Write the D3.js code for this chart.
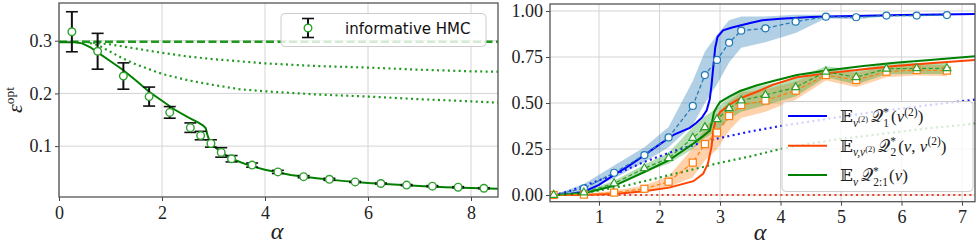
<!DOCTYPE html>
<html>
<head>
<meta charset="utf-8">
<script src="https://cdn.jsdelivr.net/npm/d3@7"></script>
<style>
  body { margin: 0; background: #fff; }
  svg { display: block; }
  .domain { display: none; }
</style>
</head>
<body>
<svg id="chart" width="978" height="244"></svg>
<script>
// ---- left panel: HMC error vs alpha ----
const hmcAlpha = [0.25, 0.75, 1.25, 1.75, 2.15, 2.55, 2.75, 2.95, 3.15, 3.35, 3.75, 4.25, 4.75, 5.25, 5.75, 6.25, 6.75, 7.25, 7.75, 8.25];
const hmcEps = [0.317, 0.280, 0.233, 0.194, 0.164, 0.135, 0.120, 0.105, 0.088, 0.076, 0.064, 0.051, 0.042, 0.037, 0.032, 0.029, 0.026, 0.024, 0.022, 0.020];
const hmcErr = [0.038, 0.034, 0.025, 0.018, 0.011, 0.009, 0.008, 0.007, 0.009, 0.006, 0.004, 0.003, 0.002, 0.002, 0.001, 0.001, 0.001, 0.001, 0.001, 0.001];

const epsTheoryAlpha = [0, 0.3, 0.45, 0.6, 0.75, 1.0, 1.25, 1.5, 1.75, 2.0, 2.25, 2.5, 2.7, 2.8, 2.85, 2.88, 2.92, 3.0, 3.2, 3.4, 3.7, 4.0, 4.5, 5.0, 5.5, 6.0, 6.5, 7.0, 7.5, 8.0, 8.6];
const epsTheory = [0.297, 0.297, 0.295, 0.288, 0.278, 0.261, 0.244, 0.224, 0.203, 0.186, 0.169, 0.155, 0.145, 0.139, 0.134, 0.122, 0.110, 0.100, 0.085, 0.074, 0.063, 0.055, 0.045, 0.039, 0.034, 0.030, 0.027, 0.0245, 0.022, 0.0205, 0.019];

const epsFlatAlpha = [0, 8.6];
const epsFlat = [0.298, 0.298];

const epsDot1Alpha = [0.45, 1.0, 1.5, 2.0, 2.5, 3.0, 3.5, 4.0, 5.0, 6.0, 7.0, 8.0, 8.6];
const epsDot1 = [0.298, 0.293, 0.285, 0.277, 0.270, 0.265, 0.261, 0.257, 0.252, 0.249, 0.245, 0.242, 0.241];

const epsDot2Alpha = [0.5, 0.75, 1.0, 1.25, 1.5, 2.0, 2.5, 3.0, 3.5, 4.0, 5.0, 6.0, 7.0, 8.0, 8.6];
const epsDot2 = [0.298, 0.292, 0.279, 0.266, 0.255, 0.237, 0.225, 0.216, 0.208, 0.204, 0.198, 0.194, 0.189, 0.185, 0.182];

const leftXTicks = [0, 2, 4, 6, 8];
const leftYTicks = [0.1, 0.2, 0.3];

// ---- right panel: overlaps vs alpha ----
const simAlpha = [0.25, 0.75, 1.25, 1.75, 2.15, 2.55, 2.75, 2.95, 3.15, 3.35, 3.75, 4.25, 4.75, 5.25, 5.75, 6.25, 6.75];
const q1Sim = [0, 0.036, 0.121, 0.217, 0.313, 0.484, 0.652, 0.734, 0.828, 0.893, 0.906, 0.942, 0.969, 0.966, 0.975, 0.975, 0.978];
const q1Lo = [0, 0.02, 0.09, 0.18, 0.26, 0.38, 0.50, 0.60, 0.72, 0.80, 0.83, 0.88, 0.96, 0.955, 0.97, 0.97, 0.975];
const q1Hi = [0, 0.06, 0.16, 0.26, 0.37, 0.62, 0.78, 0.87, 0.95, 0.97, 0.97, 0.98, 0.98, 0.975, 0.98, 0.98, 0.982];
const q2Sim = [0, 0.002, 0.013, 0.034, 0.072, 0.176, 0.277, 0.339, 0.429, 0.489, 0.513, 0.567, 0.652, 0.625, 0.670, 0.679, 0.676];
const q2Std = [0, 0.004, 0.01, 0.018, 0.03, 0.08, 0.09, 0.09, 0.08, 0.07, 0.06, 0.05, 0.03, 0.04, 0.03, 0.03, 0.03];
const q21Sim = [0, 0.013, 0.063, 0.145, 0.2, 0.31, 0.368, 0.411, 0.471, 0.513, 0.543, 0.585, 0.67, 0.64, 0.686, 0.688, 0.688];
const q21Std = [0, 0.006, 0.015, 0.02, 0.03, 0.06, 0.06, 0.06, 0.06, 0.06, 0.055, 0.05, 0.03, 0.04, 0.03, 0.03, 0.03];

const q1ThAlpha = [0.25, 0.5, 0.75, 1.0, 1.25, 1.5, 1.75, 2.0, 2.25, 2.5, 2.6, 2.7, 2.78, 2.83, 2.86, 2.89, 2.92, 2.96, 3.05, 3.2, 3.5, 3.7, 4.0, 4.5, 5.0, 6.0, 7.25];
const q1Th = [0, 0.006, 0.018, 0.055, 0.109, 0.16, 0.217, 0.275, 0.33, 0.365, 0.39, 0.42, 0.46, 0.52, 0.6, 0.70, 0.80, 0.86, 0.895, 0.91, 0.935, 0.95, 0.958, 0.968, 0.972, 0.978, 0.984];

const q2ThAlpha = [0.25, 0.75, 1.25, 1.75, 2.16, 2.56, 2.72, 2.8, 2.86, 2.89, 2.93, 3.0, 3.15, 3.33, 3.6, 3.88, 4.27, 4.76, 5.37, 5.89, 6.47, 7.25];
const q2Th = [0, 0, 0.005, 0.02, 0.04, 0.075, 0.115, 0.17, 0.263, 0.35, 0.41, 0.45, 0.49, 0.525, 0.56, 0.6, 0.64, 0.661, 0.683, 0.701, 0.716, 0.735];

const q21ThAlpha = [0.25, 0.75, 1.25, 1.75, 2.16, 2.56, 2.72, 2.83, 2.87, 2.9, 2.95, 3.0, 3.15, 3.33, 3.6, 3.88, 4.27, 4.76, 5.37, 5.89, 6.47, 7.25];
const q21Th = [0, 0.01, 0.05, 0.125, 0.19, 0.28, 0.32, 0.35, 0.40, 0.45, 0.48, 0.505, 0.535, 0.565, 0.595, 0.62, 0.652, 0.676, 0.701, 0.719, 0.734, 0.755];

const dotAlpha = [0.25, 0.5, 0.75, 1.0, 1.25, 1.5, 1.75, 2.0, 2.25, 2.5, 2.75, 3.0, 3.5, 4.0, 4.5, 5.0, 5.5, 6.0, 6.5, 7.0, 7.25];
const q1Dot = [0, 0.02, 0.05, 0.08, 0.11, 0.145, 0.18, 0.21, 0.24, 0.265, 0.29, 0.31, 0.345, 0.375, 0.40, 0.425, 0.45, 0.47, 0.49, 0.51, 0.52];
const q21Dot = [0, 0.004, 0.01, 0.025, 0.04, 0.055, 0.075, 0.095, 0.115, 0.135, 0.155, 0.175, 0.21, 0.25, 0.28, 0.305, 0.325, 0.345, 0.365, 0.38, 0.39];
const q2Dot = dotAlpha.map(() => 0);

const rightXTicks = [1, 2, 3, 4, 5, 6, 7];
const rightYTicks = [0, 0.25, 0.5, 0.75, 1.0];

const svg = d3.select("#chart");
const GRID = "#d4d4d4";
const FRAME = "#555";
const SERIF = "'Liberation Serif', 'DejaVu Serif', serif";

function pts(xs, ys) {
  return xs.map((x, i) => [x, ys[i]]);
}

function styleTicks(sel) {
  sel.attr("font-family", SERIF).attr("font-size", 18);
  sel.selectAll(".tick text").attr("fill", "#222");
  sel.selectAll(".tick line").attr("stroke", "#444");
}

function makePanel({ id, box, xDomain, yDomain, xTicks, yTicks, yFormat }) {
  const x = d3.scaleLinear().domain(xDomain).range([box.left, box.right]);
  const y = d3.scaleLinear().domain(yDomain).range([box.bottom, box.top]);

  svg.append("clipPath").attr("id", id)
    .append("rect")
    .attr("x", box.left).attr("y", box.top)
    .attr("width", box.right - box.left).attr("height", box.bottom - box.top);

  const g = svg.append("g");

  g.append("g").selectAll("line").data(xTicks).join("line")
    .attr("x1", (d) => x(d)).attr("x2", (d) => x(d))
    .attr("y1", box.top).attr("y2", box.bottom)
    .attr("stroke", GRID).attr("stroke-width", 1);
  g.append("g").selectAll("line").data(yTicks).join("line")
    .attr("x1", box.left).attr("x2", box.right)
    .attr("y1", (d) => y(d)).attr("y2", (d) => y(d))
    .attr("stroke", GRID).attr("stroke-width", 1);

  g.append("g")
    .attr("transform", `translate(0, ${box.bottom})`)
    .call(d3.axisBottom(x).tickValues(xTicks).tickFormat(d3.format("d")).tickSize(4).tickPadding(5))
    .call(styleTicks);
  g.append("g")
    .attr("transform", `translate(${box.left}, 0)`)
    .call(d3.axisLeft(y).tickValues(yTicks).tickFormat(yFormat).tickSize(4).tickPadding(3))
    .call(styleTicks);

  const plot = g.append("g").attr("clip-path", `url(#${id})`);

  return { x, y, g, plot, box };
}

function frame(p) {
  p.g.append("rect")
    .attr("x", p.box.left).attr("y", p.box.top)
    .attr("width", p.box.right - p.box.left)
    .attr("height", p.box.bottom - p.box.top)
    .attr("fill", "none").attr("stroke", FRAME).attr("stroke-width", 1.3);
}

function drawLine(p, data, color, width, dash) {
  const line = d3.line().x((d) => p.x(d[0])).y((d) => p.y(d[1]));
  p.plot.append("path")
    .attr("d", line(data))
    .attr("fill", "none")
    .attr("stroke", color)
    .attr("stroke-width", width)
    .attr("stroke-dasharray", dash || null);
}

// ================= left panel =================
const L = makePanel({
  id: "clipL",
  box: { left: 59, right: 498, top: 3, bottom: 197 },
  xDomain: [0, 8.524],
  yDomain: [0.0034, 0.3716],
  xTicks: leftXTicks,
  yTicks: leftYTicks,
  yFormat: d3.format(".1f"),
});

drawLine(L, pts(epsFlatAlpha, epsFlat), "#1f9a1f", 2.6, "8,3.5");
drawLine(L, pts(epsDot1Alpha, epsDot1), "#1f9a1f", 2.2, "2,3.4");
drawLine(L, pts(epsDot2Alpha, epsDot2), "#1f9a1f", 2.2, "2,3.4");
drawLine(L, pts(epsTheoryAlpha, epsTheory), "#008000", 2);

const hmc = hmcAlpha.map((a, i) => ({ a, e: hmcEps[i], s: hmcErr[i] }));
const eb = L.plot.append("g").selectAll("g").data(hmc).join("g");
eb.append("line")
  .attr("x1", (d) => L.x(d.a)).attr("x2", (d) => L.x(d.a))
  .attr("y1", (d) => L.y(d.e - d.s)).attr("y2", (d) => L.y(d.e + d.s))
  .attr("stroke", "#111").attr("stroke-width", 2);
[-1, 1].forEach((sgn) => {
  eb.append("line")
    .attr("x1", (d) => L.x(d.a) - 6).attr("x2", (d) => L.x(d.a) + 6)
    .attr("y1", (d) => L.y(d.e + sgn * d.s)).attr("y2", (d) => L.y(d.e + sgn * d.s))
    .attr("stroke", "#111").attr("stroke-width", 1.6);
});
eb.append("circle")
  .attr("cx", (d) => L.x(d.a)).attr("cy", (d) => L.y(d.e))
  .attr("r", 3.8)
  .attr("fill", "#fff").attr("stroke", "#2ca02c").attr("stroke-width", 1.4);

frame(L);

// legend
const lg = svg.append("g");
lg.append("rect")
  .attr("x", 281).attr("y", 13.5).attr("width", 205).attr("height", 33).attr("rx", 4)
  .attr("fill", "#fff").attr("fill-opacity", 0.8)
  .attr("stroke", "#ccc").attr("stroke-width", 1);
lg.append("line").attr("x1", 308).attr("x2", 308).attr("y1", 18.5).attr("y2", 37.5)
  .attr("stroke", "#111").attr("stroke-width", 2);
[18.5, 37.5].forEach((yy) => lg.append("line")
  .attr("x1", 302).attr("x2", 314).attr("y1", yy).attr("y2", yy)
  .attr("stroke", "#111").attr("stroke-width", 1.6));
lg.append("circle").attr("cx", 308).attr("cy", 28).attr("r", 3.8)
  .attr("fill", "#fff").attr("stroke", "#2ca02c").attr("stroke-width", 1.4);
lg.append("text").attr("x", 345).attr("y", 34)
  .attr("font-family", "DejaVu Sans, sans-serif").attr("font-size", 15)
  .attr("fill", "#111")
  .text("informative HMC");

// axis labels
svg.append("text")
  .attr("x", 277).attr("y", 239)
  .attr("text-anchor", "middle")
  .attr("font-family", SERIF).attr("font-style", "italic")
  .attr("font-size", 24).attr("fill", "#222")
  .text("α");

const yl = svg.append("text")
  .attr("transform", "translate(22, 100) rotate(-90)")
  .attr("text-anchor", "middle")
  .attr("font-family", SERIF).attr("fill", "#222");
yl.append("tspan").attr("font-style", "italic").attr("font-size", 22).text("ε");
yl.append("tspan").attr("font-size", 13.5).attr("dy", -8).text("opt");

// ================= right panel =================
const R = makePanel({
  id: "clipR",
  box: { left: 550, right: 975, top: 4, bottom: 201.7 },
  xDomain: [0.19, 7.214],
  yDomain: [-0.0364, 1.038],
  xTicks: rightXTicks,
  yTicks: rightYTicks,
  yFormat: d3.format(".2f"),
});

const area = d3.area().x((d) => R.x(d[0])).y0((d) => R.y(d[1])).y1((d) => R.y(d[2]));
R.plot.append("path")
  .attr("d", area(simAlpha.map((a, i) => [a, q1Lo[i], q1Hi[i]])))
  .attr("fill", "#1f77b4").attr("fill-opacity", 0.35);
R.plot.append("path")
  .attr("d", area(simAlpha.map((a, i) => [a, q2Sim[i] - q2Std[i], q2Sim[i] + q2Std[i]])))
  .attr("fill", "#ff7f0e").attr("fill-opacity", 0.35);
R.plot.append("path")
  .attr("d", area(simAlpha.map((a, i) => [a, q21Sim[i] - q21Std[i], q21Sim[i] + q21Std[i]])))
  .attr("fill", "#2ca02c").attr("fill-opacity", 0.35);

drawLine(R, pts(dotAlpha, q2Dot), "#e8412a", 2.2, "2,3.4");
drawLine(R, pts(dotAlpha, q21Dot), "#1f9a1f", 2.2, "2,3.4");
drawLine(R, pts(dotAlpha, q1Dot), "#1a1aff", 2.2, "2,3.4");

drawLine(R, pts(q1ThAlpha, q1Th), "#0000ff", 2);
drawLine(R, pts(q2ThAlpha, q2Th), "#ff4500", 2);
drawLine(R, pts(q21ThAlpha, q21Th), "#008000", 2);

drawLine(R, pts(simAlpha, q1Sim), "#1f77b4", 1.2, "4,2.5");
drawLine(R, pts(simAlpha, q2Sim), "#ff7f0e", 1.2, "4,2.5");
drawLine(R, pts(simAlpha, q21Sim), "#2ca02c", 1.2, "4,2.5");

R.plot.append("g").selectAll("circle").data(pts(simAlpha, q1Sim)).join("circle")
  .attr("cx", (d) => R.x(d[0])).attr("cy", (d) => R.y(d[1])).attr("r", 3.5)
  .attr("fill", "#fff").attr("stroke", "#1f77b4").attr("stroke-width", 1.2);
R.plot.append("g").selectAll("rect").data(pts(simAlpha, q2Sim)).join("rect")
  .attr("x", (d) => R.x(d[0]) - 3.5).attr("y", (d) => R.y(d[1]) - 3.5)
  .attr("width", 7).attr("height", 7)
  .attr("fill", "#fff").attr("stroke", "#ff7f0e").attr("stroke-width", 1.2);
const tri = d3.symbol().type(d3.symbolTriangle).size(28);
R.plot.append("g").selectAll("path").data(pts(simAlpha, q21Sim)).join("path")
  .attr("transform", (d) => `translate(${R.x(d[0])}, ${R.y(d[1])})`)
  .attr("d", tri)
  .attr("fill", "#fff").attr("stroke", "#2ca02c").attr("stroke-width", 1.2);

frame(R);

// legend
const rl = svg.append("g");
rl.append("rect")
  .attr("x", 782).attr("y", 101.5).attr("width", 191).attr("height", 90).attr("rx", 4)
  .attr("fill", "#fff").attr("fill-opacity", 0.8)
  .attr("stroke", "#ccc").attr("stroke-width", 1);

// each part: [text, level (0 base, 1 sub, 2 sup, 3 sup of sub), italic, dx]
const legendRows = [
  { color: "#0000ff", parts: [["𝔼", 0], ["v", 1, true], ["(2)", 3], ["𝒬", 0, false, 3], ["*", 2], ["1", 1, false, -5.5], ["(", 0, false, 2], ["v", 0, true], ["(2)", 2], [")", 0]] },
  { color: "#ff4500", parts: [["𝔼", 0], ["v,v", 1, true], ["(2)", 3], ["𝒬", 0, false, 3], ["*", 2], ["2", 1, false, -5.5], ["(", 0, false, 2], ["v", 0, true], [", ", 0], ["v", 0, true], ["(2)", 2], [")", 0]] },
  { color: "#008000", parts: [["𝔼", 0], ["v", 1, true], ["𝒬", 0, false, 3], ["*", 2], ["2:1", 1, false, -5.5], ["(", 0, false, 1], ["v", 0, true], [")", 0]] },
];
const levelDy = [0, 4.5, -6.5, 0];
const levelSize = [17, 11.5, 11.5, 8.5];
const rowY = [116, 145.7, 175];
legendRows.forEach((row, k) => {
  rl.append("line")
    .attr("x1", 788).attr("x2", 827).attr("y1", rowY[k]).attr("y2", rowY[k])
    .attr("stroke", row.color).attr("stroke-width", 2);
  const t = rl.append("text")
    .attr("x", 840).attr("y", rowY[k] + 6)
    .attr("font-family", SERIF).attr("fill", "#222");
  let level = 0;
  row.parts.forEach(([s, lv, it, dx]) => {
    const target = levelDy[lv];
    t.append("tspan")
      .attr("dy", target - level)
      .attr("dx", dx || null)
      .attr("font-size", levelSize[lv])
      .attr("font-style", it ? "italic" : null)
      .text(s);
    level = target;
  });
});

svg.append("text")
  .attr("x", 760).attr("y", 240)
  .attr("text-anchor", "middle")
  .attr("font-family", SERIF).attr("font-style", "italic")
  .attr("font-size", 24).attr("fill", "#222")
  .text("α");
</script>
</body>
</html>
